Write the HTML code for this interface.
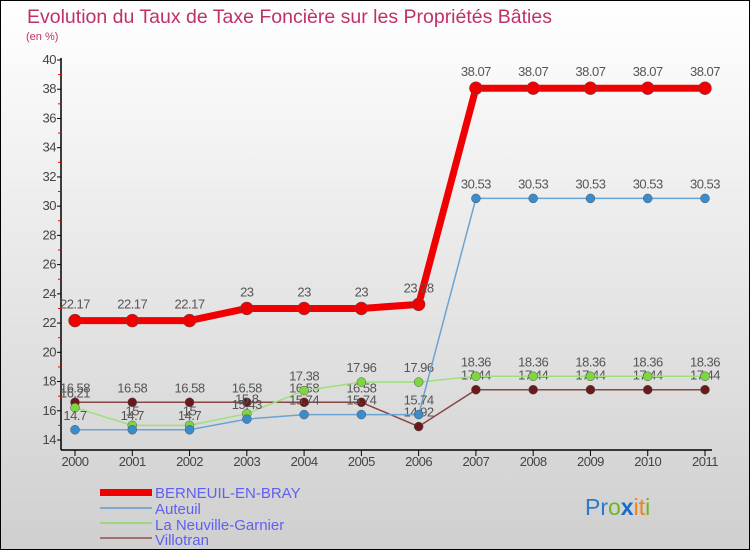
<!DOCTYPE html>
<html><head><meta charset="utf-8"><style>
body{margin:0;width:750px;height:550px;overflow:hidden}
svg{display:block;font-family:"Liberation Sans","DejaVu Sans",sans-serif}
</style></head><body>
<svg id="chart" width="750" height="550">
<defs><linearGradient id="bg" x1="0" y1="0" x2="0" y2="1"><stop offset="0" stop-color="#ffffff"/><stop offset="1" stop-color="#cfcfcf"/></linearGradient></defs>
<rect x="0.5" y="0.5" width="749" height="549" fill="url(#bg)" stroke="#000"/>
<text x="27" y="23" font-size="19.5" fill="#c0306a">Evolution du Taux de Taxe Foncière sur les Propriétés Bâties</text>
<text x="26" y="40" font-size="11" fill="#c0306a">(en %)</text>
<g id="axes"></g>
<g id="series"></g>
<g>
<rect x="100" y="489" width="52" height="7" fill="#f00000"/>
<text x="155" y="498" font-size="15" fill="#6060f0">BERNEUIL-EN-BRAY</text>
<rect x="100" y="507" width="52" height="2" fill="#80a8cc"/>
<text x="155" y="514" font-size="15" fill="#6060f0">Auteuil</text>
<rect x="100" y="522" width="52" height="2" fill="#9ed680"/>
<text x="155" y="530" font-size="15" fill="#6060f0">La Neuville-Garnier</text>
<rect x="100" y="537" width="52" height="2" fill="#a07070"/>
<text x="155" y="545" font-size="15" fill="#6060f0">Villotran</text>
</g>
<text x="585" y="515" font-size="23"><tspan fill="#2a7ac8">Pr</tspan><tspan fill="#6ab82a">o</tspan><tspan fill="#1a6ac8" font-weight="bold">x</tspan><tspan fill="#f08020">it</tspan><tspan fill="#6ab82a">i</tspan></text>
</svg>
<script>
const years=["2000","2001","2002","2003","2004","2005","2006","2007","2008","2009","2010","2011"];
const yTicks=[14,16,18,20,22,24,26,28,30,32,34,36,38,40];
const berneuil=[22.17,22.17,22.17,23,23,23,23.28,38.07,38.07,38.07,38.07,38.07];
const auteuil=[14.7,14.7,14.7,15.43,15.74,15.74,15.74,30.53,30.53,30.53,30.53,30.53];
const neuville=[16.21,15,15,15.8,17.38,17.96,17.96,18.36,18.36,18.36,18.36,18.36];
const villotran=[16.58,16.58,16.58,16.58,16.58,16.58,14.92,17.44,17.44,17.44,17.44,17.44];
const NS="http://www.w3.org/2000/svg";
const X=i=>75+i*(630/11);
const Y=v=>440-(v-14)*(380/26);
function mk(t,a,p){const e=document.createElementNS(NS,t);for(const k in a)e.setAttribute(k,a[k]);p.appendChild(e);return e;}
const ax=document.getElementById('axes');
const yl=mk('line',{x1:61,y1:58,x2:61,y2:450,stroke:'#000','stroke-width':1.5},ax);


const xl=mk('line',{x1:61,y1:450,x2:712,y2:450,stroke:'#000','stroke-width':1.5},ax);


yTicks.forEach(v=>{
 mk('line',{x1:57,y1:Y(v),x2:61,y2:Y(v),stroke:'#000'},ax);
 if(v<40)mk('line',{x1:58,y1:Y(v+1),x2:61,y2:Y(v+1),stroke:'#e00'},ax);
 const t=mk('text',{x:56,y:Y(v)+4,'text-anchor':'end','font-size':13,fill:'#444','letter-spacing':'-0.5'},ax);
 t.textContent=v;
 
 
});
years.forEach((y,i)=>{
 mk('line',{x1:X(i),y1:450,x2:X(i),y2:456,stroke:'#000'},ax);
 const t=mk('text',{x:X(i),y:466,'text-anchor':'middle','font-size':13,fill:'#444','letter-spacing':'-0.5'},ax);
 t.textContent=y;
 
 
});
const sg=document.getElementById('series');
function draw(name,vals,color,w,r,dot,lblOff){
 const g=mk('g',{},sg);
 
 
 const pl=mk('polyline',{points:vals.map((v,i)=>X(i)+','+Y(v)).join(' '),fill:'none',stroke:color,'stroke-width':w,'stroke-linejoin':'round'},g);
 
 
 vals.forEach((v,i)=>{
  const c=mk('circle',{cx:X(i),cy:Y(v),r:r,fill:dot,stroke:'#555','stroke-width':0.5},g);
  
  
  const t=mk('text',{x:X(i),y:Y(v)+lblOff,'text-anchor':'middle','font-size':13,fill:'#555','letter-spacing':'-0.5'},g);
  t.textContent=v;
  
  
 });
}
draw('villotran',villotran,'#8a4545',1.5,4.5,'#6a1a1a',-10);
draw('neuville',neuville,'#9ee07a',1.5,4.5,'#7ed640',-10);
draw('auteuil',auteuil,'#6aa4d4',1.5,4.5,'#3a8ccc',-10);
draw('berneuil',berneuil,'#f00000',7,6.5,'#f00000',-12);
</script>
</body></html>
